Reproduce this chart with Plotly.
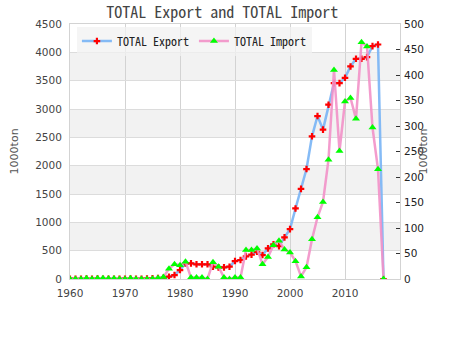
import plotly.graph_objects as go

years = list(range(1960, 2018))

export_vals = [5, 3, 2, 8, 5, 6, 4, 3, 4, 3,
               5, 6, 4, 5, 8, 12, 15, 23, 41, 70,
               158, 276, 276, 259, 259, 259, 217, 206, 206, 217,
               317, 335, 400, 430, 480, 423, 540, 611, 581, 734,
               880, 1245, 1590, 1940, 2518, 2876, 2636, 3076, 3457, 3457,
               3551, 3751, 3886, 3886, 3915, 4109, 4138, 0]

import_vals = [0, 0, 0, 1.5, 0, 1.5, 1.5, 1, 1, 0,
               0, 1.5, 0, 0, 0, 0.5, 2, 4, 20, 29,
               27, 34, 3, 3, 3, 0, 33, 24, 3, 0,
               3, 3, 57, 57, 60, 29, 43, 66, 75, 58,
               52, 35, 5, 23, 78, 121, 151, 234, 410, 251,
               348, 355, 314, 464, 456, 297, 215, 0]

x_ticks = [1960, 1970, 1980, 1990, 2000, 2010]
left_ticks = list(range(0, 4501, 500))
right_ticks = list(range(0, 501, 50))

tick_font = dict(family="DejaVu Sans", size=10.5, color="#444")
mono = "Noto Sans Mono CJK JP, DejaVu Sans Mono, monospace"

fig = go.Figure()
fig.add_trace(go.Scatter(
    x=years, y=export_vals, name="TOTAL Export", mode="lines+markers",
    line=dict(color="rgba(120,180,245,0.9)", width=2.5),
    marker=dict(symbol="cross", size=5.5, color="red"),
    yaxis="y"))
fig.add_trace(go.Scatter(
    x=years, y=import_vals, name="TOTAL Import", mode="lines+markers",
    line=dict(color="rgba(242,145,200,0.9)", width=2.5),
    marker=dict(symbol="triangle-up", size=7, color="#00ff00"),
    yaxis="y2"))

shapes = []
for lo in range(500, 4500, 1000):
    shapes.append(dict(type="rect", xref="paper", yref="y", x0=0, x1=1,
                       y0=lo, y1=lo + 500, fillcolor="#f2f2f2",
                       line=dict(width=0), layer="below"))

fig.update_layout(
    width=450, height=350,
    margin=dict(l=70, r=50, t=24, b=71),
    paper_bgcolor="white", plot_bgcolor="white",
    title=dict(text="TOTAL Export and TOTAL Import", x=0.494, xanchor="center",
               y=1 - 12 / 350, yanchor="middle", yref="container",
               font=dict(family=mono, size=16, color="#444")),
    xaxis=dict(range=[1960, 2020], tickvals=x_ticks, showgrid=True,
               gridcolor="#d3d3d3", gridwidth=1, zeroline=False,
               showline=True, linecolor="#d3d3d3", mirror=True,
               ticks="", tickfont=tick_font, ticklabelstandoff=4),
    yaxis=dict(range=[0, 4500], tickvals=left_ticks, showgrid=True,
               gridcolor="#dcdcdc", zeroline=False, showline=True,
               linecolor="#d3d3d3", mirror=True, ticks="",
               tickfont=tick_font, ticklabelstandoff=5),
    yaxis2=dict(range=[0, 500], tickvals=right_ticks, overlaying="y",
                side="right", showgrid=False, zeroline=False,
                ticks="inside", ticklen=4, tickcolor="#333",
                ticklabelstandoff=3,
                tickfont=dict(family="DejaVu Sans", size=10.5, color="#222")),
    legend=dict(orientation="h", x=0.021, y=0.99, xanchor="left",
                yanchor="top", bgcolor="rgba(242,242,242,0.75)",
                font=dict(family=mono, size=12, color="#222"),
                itemwidth=30),
    shapes=shapes,
    annotations=[
        dict(text="1000ton", xref="paper", yref="paper", x=-0.167, y=0.5,
             textangle=-90, showarrow=False, xanchor="center", yanchor="middle",
             font=dict(family="DejaVu Sans", size=11, color="#555")),
        dict(text="1000ton", xref="paper", yref="paper", x=1.0727, y=0.5,
             textangle=-90, showarrow=False, xanchor="center", yanchor="middle",
             font=dict(family="DejaVu Sans", size=11, color="#555")),
    ],
)

fig.write_html("out.html")
